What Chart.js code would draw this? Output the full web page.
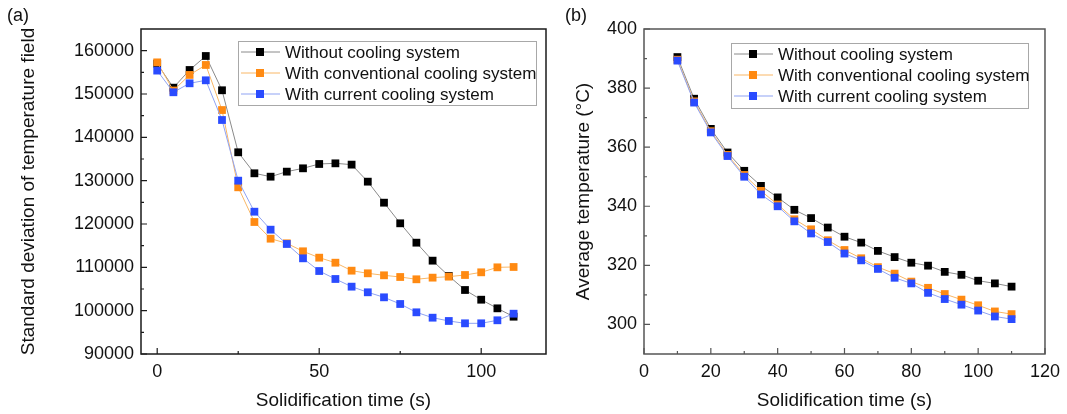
<!DOCTYPE html>
<html>
<head>
<meta charset="utf-8">
<script src="https://cdn.jsdelivr.net/npm/chart.js@4.4.1/dist/chart.umd.min.js"></script>
<style>
  body { margin: 0; background: #fff; width: 1067px; height: 414px; overflow: hidden; position: relative;
         font-family: "Liberation Sans", Arial, sans-serif; }
  .panel { position: absolute; top: 0; height: 414px; }
  #wrapA { left: 0; width: 560px; }
  #wrapB { left: 560px; width: 507px; }
  .tag { position: absolute; top: 5px; font-size: 18px; color: #111; }
</style>
</head>
<body>
<div class="panel" id="wrapA"><canvas id="chartA"></canvas></div>
<div class="panel" id="wrapB"><canvas id="chartB"></canvas></div>
<div class="tag" style="left:7px">(a)</div>
<div class="tag" style="left:565px">(b)</div>
<script>
// (a) standard deviation of temperature field
const timeA = [0, 5, 10, 15, 20, 25, 30, 35, 40, 45, 50, 55, 60, 65, 70, 75, 80, 85, 90, 95, 100, 105, 110];
const stdWithout = [157000, 151460, 155540, 158770, 150860, 136550, 131700, 130920, 132080, 132850, 133850, 134000,
                    133700, 129770, 124920, 120160, 115690, 111540, 108000, 104770, 102530, 100540, 98610];
const stdConventional = [157300, 150800, 154400, 156700, 146300, 128470, 120460, 116610, 115540, 113700, 112230, 111070,
                         109230, 108620, 108160, 107770, 107240, 107620, 107850, 108230, 108850, 110000, 110080];
const stdCurrent = [155400, 150400, 152470, 153160, 144000, 130000, 122840, 118690, 115390, 112080, 109150, 107310,
                    105540, 104240, 103080, 101540, 99620, 98380, 97620, 97080, 97080, 97780, 99300];
const xTicksA = [0, 50, 100];
const xMinorA = [25, 75];
const yTicksA = [90000, 100000, 110000, 120000, 130000, 140000, 150000, 160000];
const yMinorA = [95000, 105000, 115000, 125000, 135000, 145000, 155000];

// (b) average temperature
const timeB = [10, 15, 20, 25, 30, 35, 40, 45, 50, 55, 60, 65, 70, 75, 80, 85, 90, 95, 100, 105, 110];
const avgWithout = [390.5, 376.4, 366.2, 358.2, 352.0, 346.9, 343.0, 338.8, 336.0, 332.8, 329.7,
                    327.7, 324.9, 322.8, 320.9, 319.9, 317.8, 316.8, 314.8, 313.9, 312.8];
const avgConventional = [389.6, 375.5, 365.4, 357.4, 350.6, 345.2, 340.6, 335.6, 332.2, 328.5, 325.2,
                         322.4, 319.4, 317.2, 314.5, 312.4, 310.3, 308.4, 306.5, 304.4, 303.5];
const avgCurrent = [389.3, 375.1, 365.0, 357.0, 350.0, 344.0, 340.0, 334.9, 330.8, 327.9, 324.0,
                    321.7, 318.8, 315.8, 313.9, 310.7, 308.6, 306.7, 304.7, 302.7, 301.8];
const xTicksB = [0, 20, 40, 60, 80, 100, 120];
const xMinorB = [10, 30, 50, 70, 90, 110];
const yTicksB = [300, 320, 340, 360, 380, 400];
const yMinorB = [310, 330, 350, 370, 390];

const seriesNames = ['Without cooling system', 'With conventional cooling system', 'With current cooling system'];
const markerColors = ['#000000', '#ff8a12', '#2a4bff'];
const lineColors = ['#8a8a8a', '#f9b766', '#8fa3f3'];

const FONT = '"Liberation Sans", Arial, sans-serif';

function toPoints(xs, ys) {
    return xs.map((t, i) => ({ x: t, y: ys[i] }));
}

function makeDatasets(xs, lists) {
    return lists.map((ys, i) => ({
        label: seriesNames[i],
        data: toPoints(xs, ys),
        borderColor: lineColors[i],
        borderWidth: 1,
        backgroundColor: markerColors[i],
        pointBackgroundColor: markerColors[i],
        pointBorderWidth: 0,
        pointStyle: 'rect',
        pointRadius: 5.5,
        tension: 0,
        order: 3 - i   // blue drawn on top
    }));
}

// frame, inward ticks and the boxed legend
const decor = {
    id: 'decor',
    afterDraw(chart, args, o) {
        const { ctx, chartArea: a, scales: { x, y } } = chart;
        ctx.save();
        ctx.strokeStyle = o.frame;
        ctx.lineWidth = 1.5;
        ctx.strokeRect(a.left, a.top, a.right - a.left, a.bottom - a.top);

        ctx.lineWidth = 1.2;
        ctx.beginPath();
        o.xMajor.forEach(v => { const p = x.getPixelForValue(v); ctx.moveTo(p, a.bottom); ctx.lineTo(p, a.bottom - 6); });
        o.xMinor.forEach(v => { const p = x.getPixelForValue(v); ctx.moveTo(p, a.bottom); ctx.lineTo(p, a.bottom - 3); });
        o.yMajor.forEach(v => { const p = y.getPixelForValue(v); ctx.moveTo(a.left, p); ctx.lineTo(a.left + 6, p); });
        o.yMinor.forEach(v => { const p = y.getPixelForValue(v); ctx.moveTo(a.left, p); ctx.lineTo(a.left + 3, p); });
        ctx.stroke();

        // legend
        const L = o.legend;
        ctx.fillStyle = '#fff';
        ctx.fillRect(L.x, L.y, L.w, L.h);
        ctx.strokeStyle = '#a8a8a8';
        ctx.lineWidth = 1;
        ctx.strokeRect(L.x + 0.5, L.y + 0.5, L.w, L.h);
        ctx.font = '17px ' + FONT;
        ctx.textBaseline = 'middle';
        seriesNames.forEach((name, i) => {
            const ry = L.rows[i];
            ctx.strokeStyle = lineColors[i];
            ctx.beginPath();
            ctx.moveTo(L.x + 3, ry);
            ctx.lineTo(L.x + 42, ry);
            ctx.stroke();
            ctx.fillStyle = markerColors[i];
            ctx.fillRect(L.x + 18, ry - 4, 8, 8);
            ctx.fillStyle = '#111';
            ctx.fillText(name, L.x + 47, ry + 1);
        });
        ctx.restore();
    }
};

function makeChart(id, datasets, cfg) {
    return new Chart(document.getElementById(id), {
        type: 'line',
        data: { datasets: datasets },
        plugins: [decor],
        options: {
            responsive: true,
            maintainAspectRatio: false,
            animation: false,
            layout: { padding: { top: 29, right: cfg.padRight, left: 0, bottom: 0 } },
            plugins: {
                legend: { display: false },
                tooltip: { enabled: false },
                decor: cfg.decor
            },
            scales: {
                x: {
                    type: 'linear',
                    min: cfg.xMin, max: cfg.xMax,
                    afterBuildTicks: s => { s.ticks = cfg.decor.xMajor.map(v => ({ value: v })); },
                    afterFit: s => { s.height = 60; },
                    grid: { display: false, drawTicks: false },
                    border: { display: false },
                    ticks: { color: '#111', font: { size: 18, family: FONT }, padding: 7, maxRotation: 0, autoSkip: false },
                    title: { display: true, text: 'Solidification time (s)', color: '#111',
                             font: { size: 19, family: FONT }, padding: { top: 0, bottom: 2 } }
                },
                y: {
                    min: cfg.yMin, max: cfg.yMax,
                    afterBuildTicks: s => { s.ticks = cfg.decor.yMajor.map(v => ({ value: v })); },
                    afterFit: s => { s.width = cfg.yWidth; },
                    grid: { display: false, drawTicks: false },
                    border: { display: false },
                    ticks: { color: '#111', font: { size: 18, family: FONT }, padding: 7, autoSkip: false,
                             callback: v => String(v) },
                    title: { display: true, text: cfg.yTitle, color: '#111',
                             font: { size: 19, family: FONT }, padding: { top: cfg.yTitlePad, bottom: 0 } }
                }
            }
        }
    });
}

makeChart('chartA', makeDatasets(timeA, [stdWithout, stdConventional, stdCurrent]), {
    xMin: -5, xMax: 120, yMin: 90000, yMax: 165000,
    yWidth: 141, padRight: 14, yTitlePad: 17,
    yTitle: 'Standard deviation of temperature field',
    decor: {
        frame: '#1a1a1a',
        xMajor: xTicksA, xMinor: xMinorA, yMajor: yTicksA, yMinor: yMinorA,
        legend: { x: 238, y: 41, w: 298, h: 64, rows: [52, 73, 94] }
    }
});

makeChart('chartB', makeDatasets(timeB, [avgWithout, avgConventional, avgCurrent]), {
    xMin: 0, xMax: 120, yMin: 290, yMax: 400,
    yWidth: 84, padRight: 21, yTitlePad: 12,
    yTitle: 'Average temperature (°C)',
    decor: {
        frame: '#555555',
        xMajor: xTicksB, xMinor: xMinorB, yMajor: yTicksB, yMinor: yMinorB,
        legend: { x: 171, y: 43, w: 297, h: 65, rows: [54, 75, 96] }
    }
});
</script>
</body>
</html>
